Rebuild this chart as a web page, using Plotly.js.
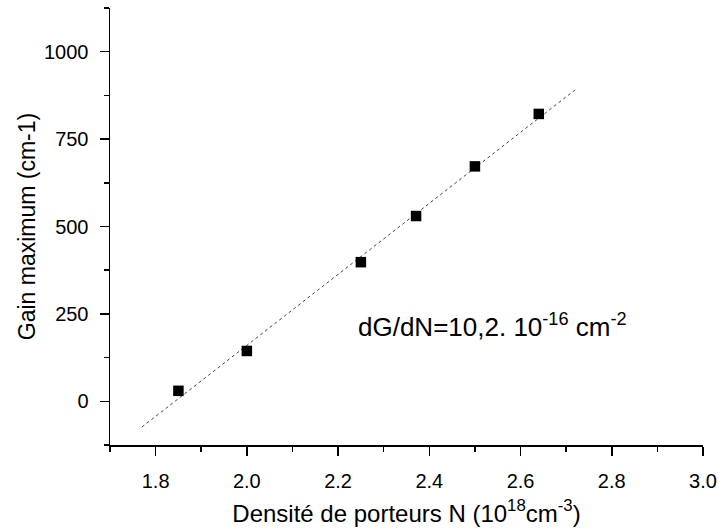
<!DOCTYPE html>
<html>
<head>
<meta charset="utf-8">
<script src="https://cdn.plot.ly/plotly-3.0.1.min.js"></script>
<style>html,body{margin:0;padding:0;background:#fff;}#chart{width:718px;height:529px;}</style>
</head>
<body>
<div id="chart"></div>
<script>
// Data
var densityN = [1.85, 2.0, 2.25, 2.371, 2.5, 2.64];
var gainMax = [30, 144, 398, 530, 672, 822];
var fitRangeX = [1.77, 2.72];
var xTickVals = [1.8, 2.0, 2.2, 2.4, 2.6, 2.8, 3.0];
var xTickText = ['1.8', '2.0', '2.2', '2.4', '2.6', '2.8', '3.0'];
var yTickVals = [0, 250, 500, 750, 1000];
var yTickText = ['0', '250', '500', '750', '1000'];

// Least-squares linear fit
var n = densityN.length, mx = 0, my = 0;
for (var i = 0; i < n; i++) { mx += densityN[i]; my += gainMax[i]; }
mx /= n; my /= n;
var sxx = 0, sxy = 0;
for (var i = 0; i < n; i++) { sxx += (densityN[i]-mx)*(densityN[i]-mx); sxy += (densityN[i]-mx)*(gainMax[i]-my); }
var slope = sxy / sxx, icpt = my - slope * mx;
var fitY = fitRangeX.map(function(x){ return icpt + slope * x; });

var font = 'Liberation Sans, Arial, sans-serif';
var traces = [
  {x: fitRangeX, y: fitY, mode: 'lines', line: {color: '#444', width: 1, dash: 'dot'}, hoverinfo: 'skip'},
  {x: densityN, y: gainMax, mode: 'markers', marker: {symbol: 'square', size: 10.5, color: '#000'}}
];
var layout = {
  width: 718, height: 529,
  margin: {l: 110, r: 15, t: 8, b: 84},
  paper_bgcolor: '#fff', plot_bgcolor: '#fff',
  showlegend: false,
  font: {family: font, color: '#000'},
  xaxis: {
    range: [1.7, 3.0], showgrid: false, zeroline: false,
    showline: true, linecolor: '#000', linewidth: 1.5,
    ticks: 'outside', ticklen: 9, tickwidth: 1.5, tickcolor: '#000',
    tickvals: xTickVals, ticktext: xTickText,
    tickfont: {size: 20, family: font}, ticklabelstandoff: 8,
    minor: {dtick: 0.1, tick0: 1.7, ticks: 'outside', ticklen: 5, tickwidth: 1.5, tickcolor: '#000', showgrid: false},
    title: {text: 'Densité de porteurs N (10<sup>18</sup>cm<sup>-3</sup>)', font: {size: 24, family: font}, standoff: 14}
  },
  yaxis: {
    range: [-125, 1125], showgrid: false, zeroline: false,
    showline: true, linecolor: '#000', linewidth: 1.5,
    ticks: 'outside', ticklen: 9, tickwidth: 1.5, tickcolor: '#000',
    tickvals: yTickVals, ticktext: yTickText,
    tickfont: {size: 20, family: font}, ticklabelstandoff: 7,
    minor: {dtick: 125, tick0: -125, ticks: 'outside', ticklen: 5, tickwidth: 1.5, tickcolor: '#000', showgrid: false},
    title: {text: 'Gain maximum (cm-1)', font: {size: 23, family: font}, standoff: 2}
  },
  annotations: [{
    xref: 'paper', yref: 'paper', x: (356-110)/593, y: (445-344)/437,
    xanchor: 'left', yanchor: 'bottom', showarrow: false,
    text: 'dG/dN=10,2. 10<sup>-16</sup> cm<sup>-2</sup>',
    font: {size: 26, family: font, color: '#000'}
  }]
};
Plotly.newPlot('chart', traces, layout, {displayModeBar: false, staticPlot: true});
</script>
</body>
</html>
